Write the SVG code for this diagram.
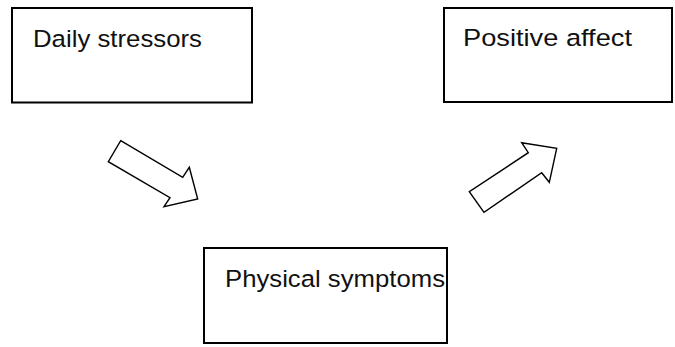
<svg xmlns="http://www.w3.org/2000/svg" width="675" height="347" viewBox="0 0 675 347">
<style>
.box{fill:#fff;stroke:#000;stroke-width:2}
.lbl{font-family:"Liberation Sans",Arial,sans-serif;font-size:24.5px;fill:#111}
.arr{fill:#fff;stroke:#000;stroke-width:1.4;stroke-linejoin:miter}
</style>
<rect width="675" height="347" fill="#fff"/>
<g id="daily-stressors">
<rect class="box" x="12" y="8" width="240" height="94.5"/>
<text class="lbl" x="33" y="47" textLength="169" lengthAdjust="spacingAndGlyphs">Daily stressors</text>
</g>
<g id="positive-affect">
<rect class="box" x="444" y="8" width="228" height="94"/>
<text class="lbl" x="463" y="46" textLength="169" lengthAdjust="spacingAndGlyphs">Positive affect</text>
</g>
<g id="physical-symptoms">
<rect class="box" x="204" y="248" width="243" height="95"/>
<text class="lbl" x="225" y="287" textLength="220" lengthAdjust="spacingAndGlyphs">Physical symptoms</text>
</g>
<g id="connectors">
<polygon class="arr" points="120.7,140.7 182.7,177.3 189.3,167.3 197.7,199 164,206.7 170,197.7 108.3,161.7"/>
<polygon class="arr" points="484,212.3 469.3,191.7 528.3,152.7 521.7,142.7 556.7,148.3 549.3,182.3 541.7,172.7"/>
</g>
</svg>
